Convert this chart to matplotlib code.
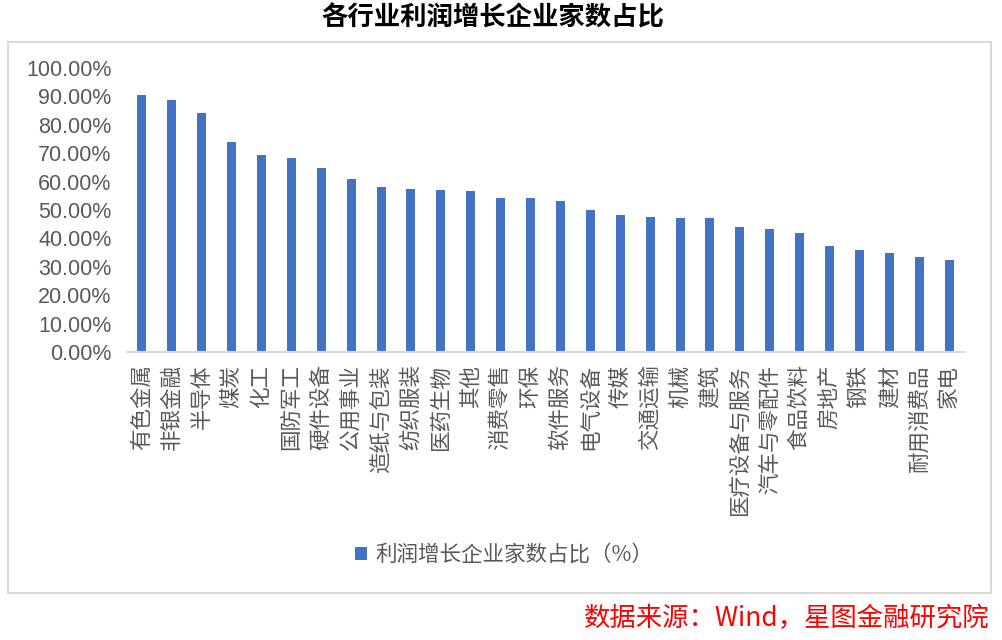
import matplotlib
matplotlib.use("Agg")
import matplotlib.pyplot as plt
from matplotlib.patches import Rectangle, Patch
from matplotlib.ticker import PercentFormatter

plt.rcParams['font.family'] = ['Noto Sans CJK SC', 'DejaVu Sans']

# data
industries = ['有色金属', '非银金融', '半导体', '煤炭', '化工', '国防军工', '硬件设备',
              '公用事业', '造纸与包装', '纺织服装', '医药生物', '其他', '消费零售', '环保',
              '软件服务', '电气设备', '传媒', '交通运输', '机械', '建筑', '医疗设备与服务',
              '汽车与零配件', '食品饮料', '房地产', '钢铁', '建材', '耐用消费品', '家电']
share = [90.5, 88.8, 84.2, 73.9, 69.3, 68.2, 64.7, 60.8, 58.0, 57.3, 56.9, 56.6, 54.1, 54.1,
         53.0, 49.9, 48.1, 47.4, 47.1, 47.1, 43.9, 43.2, 41.8, 37.5, 35.8, 34.7, 33.3, 32.3]
yticks = [0, 10, 20, 30, 40, 50, 60, 70, 80, 90, 100]

series_name = '利润增长企业家数占比（%）'
title = '各行业利润增长企业家数占比'
source = '数据来源：Wind，星图金融研究院'

bar_color = '#4472C4'
text_gray = '#595959'

W, H = 1002, 640
fig = plt.figure(figsize=(W / 100, H / 100), dpi=100)

# outer frame around the chart
fig.patches.append(Rectangle((8 / W, 1 - 593 / H), (991 - 8) / W, (593 - 42) / H,
                             transform=fig.transFigure, fill=False,
                             edgecolor='#D9D9D9', linewidth=1.5))

ax = fig.add_axes([127 / W, 1 - 352 / H, (964 - 127) / W, (352 - 68) / H])
x = range(len(industries))
ax.bar(x, share, width=0.3, color=bar_color, zorder=2)

ax.set_xlim(-0.5, len(industries) - 0.5)
ax.set_ylim(0, 100)
ax.set_yticks(yticks)
ax.yaxis.set_major_formatter(PercentFormatter(100, decimals=2))
ax.set_xticks(list(x))
ax.set_xticklabels(industries, rotation=90, fontsize=15.5, color=text_gray)

for lab in ax.get_yticklabels():
    lab.set_family(['Liberation Sans', 'DejaVu Sans'])
ax.tick_params(axis='y', length=0, pad=11, labelsize=15.5, labelcolor=text_gray)
ax.tick_params(axis='x', length=0, pad=9)

for s in ['top', 'right', 'left']:
    ax.spines[s].set_visible(False)
ax.spines['bottom'].set_color('#D9D9D9')
ax.spines['bottom'].set_linewidth(1.5)

fig.text(493 / W, 1 - 18 / H, title, ha='center', va='center',
         fontsize=19, fontweight='bold', color='black')

handle = Patch(facecolor=bar_color, edgecolor='none')
fig.legend([handle], [series_name], loc='center left',
           bbox_to_anchor=(336 / W, 1 - 555 / H), frameon=False,
           fontsize=15.5, labelcolor=text_gray, handlelength=0.55, handleheight=0.55,
           handletextpad=0.4)

fig.text(990 / W, 1 - 618 / H, source, ha='right', va='center',
         fontsize=19, color='red', style='italic')

fig.savefig('out.png', dpi=100)
